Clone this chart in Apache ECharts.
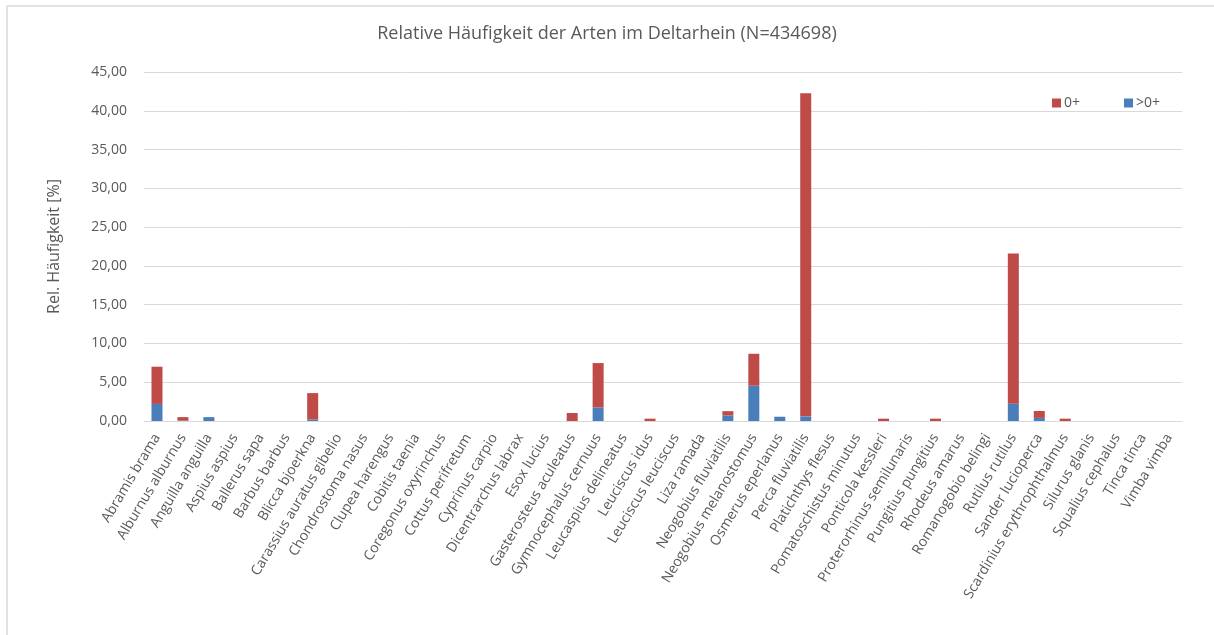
<!DOCTYPE html>
<html>
<head>
<meta charset="utf-8">
<script src="https://cdn.jsdelivr.net/npm/echarts@6/dist/echarts.min.js"></script>
<style>
  html, body { margin: 0; padding: 0; background: #fff; }
  #main { width: 1214px; height: 635px; }
</style>
</head>
<body>
<div id="main"></div>
<script>
const species = [
  'Abramis brama', 'Alburnus alburnus', 'Anguilla anguilla', 'Aspius aspius',
  'Ballerus sapa', 'Barbus barbus', 'Blicca bjoerkna', 'Carassius auratus gibelio',
  'Chondrostoma nasus', 'Clupea harengus', 'Cobitis taenia', 'Coregonus oxyrinchus',
  'Cottus perifretum', 'Cyprinus carpio', 'Dicentrarchus labrax', 'Esox lucius',
  'Gasterosteus aculeatus', 'Gymnocephalus cernuus', 'Leucaspius delineatus', 'Leuciscus idus',
  'Leuciscus leuciscus', 'Liza ramada', 'Neogobius fluviatilis', 'Neogobius melanostomus',
  'Osmerus eperlanus', 'Perca fluviatilis', 'Platichthys flesus', 'Pomatoschistus minutus',
  'Ponticola kessleri', 'Proterorhinus semilunaris', 'Pungitius pungitius', 'Rhodeus amarus',
  'Romanogobio belingi', 'Rutilus rutilus', 'Sander lucioperca', 'Scardinius erythrophthalmus',
  'Silurus glanis', 'Squalius cephalus', 'Tinca tinca', 'Vimba vimba'
];

// >0+ (older fish), bottom of the stack
const olderValues = [
  2.2, 0.05, 0.5, 0, 0, 0, 0.2, 0, 0, 0,
  0, 0, 0, 0, 0, 0, 0, 1.75, 0, 0,
  0, 0, 0.72, 4.55, 0.55, 0.6, 0, 0, 0, 0,
  0, 0, 0, 2.23, 0.4, 0, 0, 0, 0, 0
];

// 0+ (young of the year), top of the stack
const youngValues = [
  4.8, 0.45, 0, 0, 0, 0, 3.4, 0, 0, 0,
  0, 0, 0, 0, 0, 0, 1.03, 5.72, 0, 0.3,
  0, 0, 0.55, 4.12, 0, 41.67, 0, 0, 0.3, 0,
  0.3, 0, 0, 19.37, 0.89, 0.3, 0, 0, 0, 0
];

const textColor = '#595959';
const font = 'Open Sans';

const chart = echarts.init(document.getElementById('main'));

chart.setOption({
  animation: false,
  backgroundColor: '#fff',
  textStyle: { fontFamily: font },
  graphic: [{
    type: 'rect',
    shape: { x: 7, y: 6, width: 1230, height: 660 },
    style: { fill: 'none', stroke: '#e2e2e2', lineWidth: 2 },
    silent: true
  }],
  title: {
    text: 'Relative Häufigkeit der Arten im Deltarhein (N=434698)',
    left: 'center',
    top: 20,
    textStyle: { fontFamily: font, fontSize: 18, fontWeight: 'normal', color: textColor }
  },
  legend: {
    data: ['0+', '>0+'],
    left: 1047,
    top: 91,
    itemWidth: 9,
    itemHeight: 9,
    itemGap: 44,
    icon: 'rect',
    textStyle: { fontFamily: font, fontSize: 14, color: textColor, padding: [0, 0, 0, -2] }
  },
  grid: { left: 144, right: 32, top: 72, bottom: 214 },
  xAxis: {
    type: 'category',
    data: species,
    axisTick: { show: false },
    axisLine: { lineStyle: { color: '#d9d9d9' } },
    axisLabel: {
      interval: 0,
      rotate: 59,
      fontFamily: font,
      fontSize: 14,
      color: textColor,
      margin: 14
    }
  },
  yAxis: {
    type: 'value',
    min: 0,
    max: 45,
    interval: 5,
    name: 'Rel. Häufigkeit [%]',
    nameLocation: 'middle',
    nameGap: 82,
    nameTextStyle: { fontFamily: font, fontSize: 16, color: textColor },
    axisLine: { show: false },
    axisTick: { show: false },
    splitLine: { lineStyle: { color: '#d9d9d9' } },
    axisLabel: {
      fontFamily: font,
      fontSize: 14,
      color: textColor,
      margin: 17,
      formatter: v => v.toFixed(2).replace('.', ',')
    }
  },
  series: [
    {
      name: '>0+',
      type: 'bar',
      stack: 'total',
      barWidth: 11,
      itemStyle: { color: '#4a7ebb' },
      data: olderValues
    },
    {
      name: '0+',
      type: 'bar',
      stack: 'total',
      barWidth: 11,
      itemStyle: { color: '#be4b48' },
      data: youngValues
    }
  ]
});
</script>
</body>
</html>
